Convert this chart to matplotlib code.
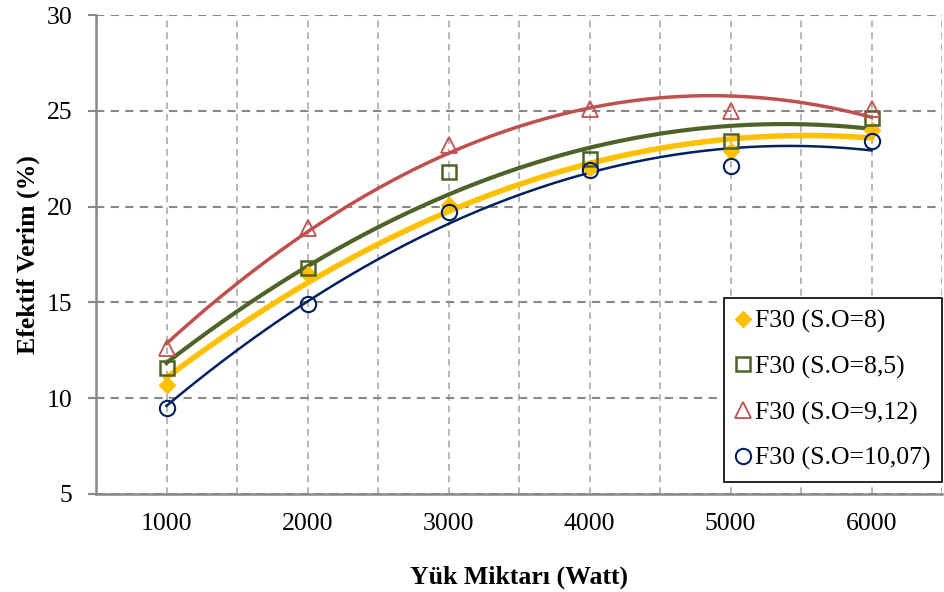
import numpy as np
import matplotlib
matplotlib.use("Agg")
import matplotlib.pyplot as plt
from matplotlib.ticker import MultipleLocator

plt.rcParams['font.family'] = ['Liberation Serif', 'DejaVu Serif']

loads = [1000, 2000, 3000, 4000, 5000, 6000]
so_8 = [10.7, 16.5, 20.1, 22.0, 22.9, 24.0]
so_85 = [11.6, 16.8, 21.8, 22.5, 23.4, 24.6]
so_912 = [12.6, 18.9, 23.2, 25.1, 25.0, 25.1]
so_1007 = [9.5, 14.9, 19.7, 21.9, 22.1, 23.4]
labels = ["F30 (S.O=8)", "F30 (S.O=8,5)", "F30 (S.O=9,12)", "F30 (S.O=10,07)"]

series = [
    (so_8, dict(color='#FFC000', marker='D', mfc='#FFC000', mec='#FFC000', ms=8), 4.0),
    (so_85, dict(color='#4F6228', marker='s', mfc='none', mec='#4F6228', ms=10, mew=1.8), 3.0),
    (so_912, dict(color='#C0504D', marker='^', mfc='none', mec='#C0504D', ms=12, mew=1.3), 2.5),
    (so_1007, dict(color='#002060', marker='o', mfc='none', mec='#002060', ms=11, mew=1.5), 1.8),
]

fig = plt.figure(figsize=(9.44, 5.92), dpi=100)
ax = fig.add_axes([96/944, 1-494/592, (942-96)/944, (494-15)/592])

x = np.array(loads, dtype=float)
xs = np.linspace(1000, 6000, 200)
handles = []
for (vals, st, lw), lab in zip(series, labels):
    c = np.polyfit(x, vals, 2)
    ax.plot(xs, np.polyval(c, xs), color=st['color'], lw=lw, zorder=3)
    h, = ax.plot(x, vals, ls='none', marker=st['marker'], ms=st['ms'], mfc=st['mfc'],
                 mec=st['mec'], mew=st.get('mew', 1), zorder=4, label=lab)
    handles.append(h)

ax.set_xlim(500, 6500)
ax.set_ylim(5, 30)
ax.set_xticks(loads)
ax.xaxis.set_minor_locator(MultipleLocator(500))
ax.yaxis.set_major_locator(MultipleLocator(5))
ax.grid(True, which='major', axis='y', ls=(0, (4, 3)), color='#888888', lw=1.5)
ax.grid(True, which='both', axis='x', ls=(0, (4, 3)), color='#AAAAAA', lw=1.2)
ax.set_axisbelow(True)

for s in ['top', 'right']:
    ax.spines[s].set_visible(False)
for s in ['left', 'bottom']:
    ax.spines[s].set_color('#888888')
    ax.spines[s].set_linewidth(1.8)

ax.tick_params(axis='x', which='both', length=0, labelsize=18.5, pad=14)
ax.tick_params(axis='y', length=6, width=1.5, color='#888888', labelsize=18.5, pad=11)

ax.set_xlabel('Yük Miktarı (Watt)', fontsize=18.5, fontweight='bold', labelpad=22)
ax.set_ylabel('Efektif Verim (%)', fontsize=18.5, fontweight='bold', labelpad=5)

leg = ax.legend(handles=handles, loc='lower right', bbox_to_anchor=(1.0, 12/479),
                fontsize=18.5, frameon=True,
                fancybox=False, edgecolor='black', framealpha=1, handlelength=0.55,
                handletextpad=0.2, labelspacing=0.87, borderpad=0.45,
                borderaxespad=0.0)
leg.get_frame().set_linewidth(1.2)

fig.savefig('out.png', dpi=100)
